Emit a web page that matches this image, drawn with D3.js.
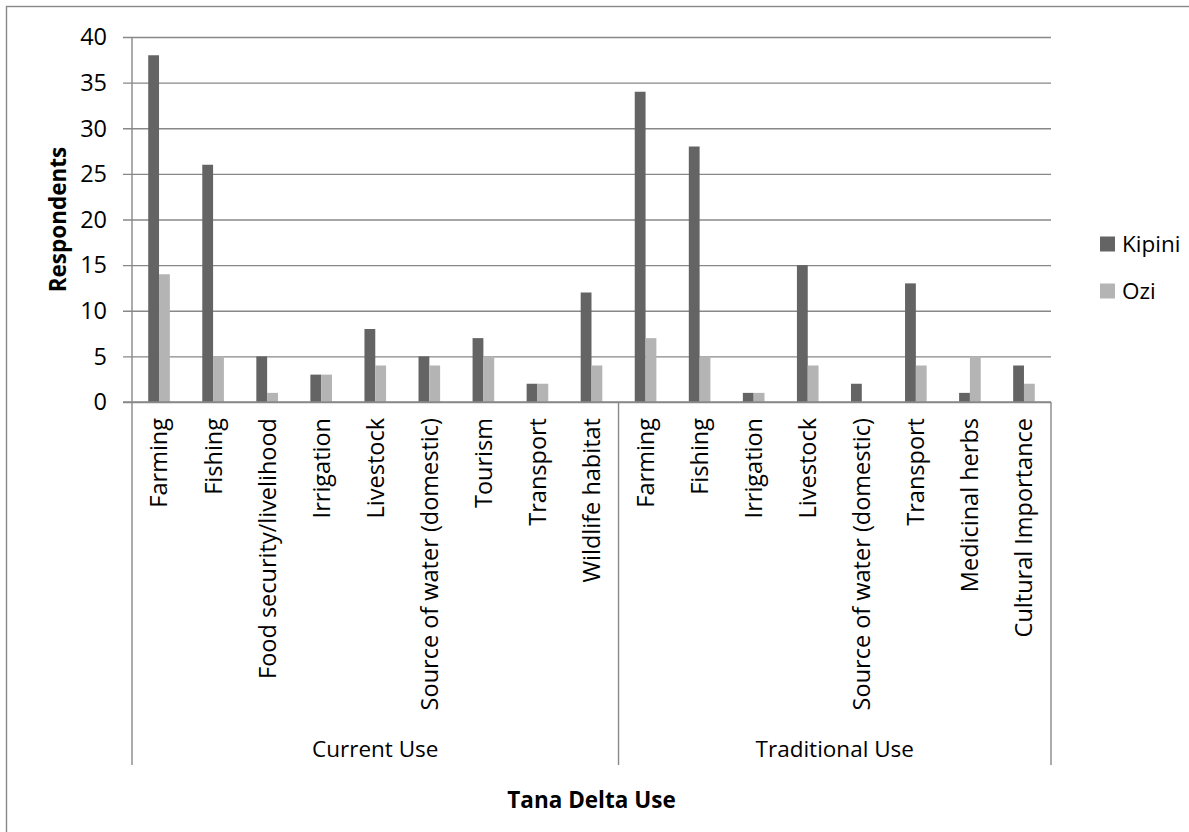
<!DOCTYPE html>
<html>
<head>
<meta charset="utf-8">
<script src="https://cdn.jsdelivr.net/npm/d3@7"></script>
<style>
  html, body { margin: 0; padding: 0; background: #fff; }
  svg { display: block; }
  text { font-family: "Open Sans", "Noto Sans", sans-serif; fill: #000; }
</style>
</head>
<body>
<svg id="chart" width="1189" height="832"></svg>
<script>
// Tana Delta uses named by respondents in Kipini and Ozi
const groups = ["Current Use", "Traditional Use"];
const currentUses = ["Farming", "Fishing", "Food security/livelihood", "Irrigation", "Livestock",
  "Source of water (domestic)", "Tourism", "Transport", "Wildlife habitat"];
const traditionalUses = ["Farming", "Fishing", "Irrigation", "Livestock", "Source of water (domestic)",
  "Transport", "Medicinal herbs", "Cultural Importance"];
const series = ["Kipini", "Ozi"];
const kipiniCurrent = [38, 26, 5, 3, 8, 5, 7, 2, 12];
const oziCurrent = [14, 5, 1, 3, 4, 4, 5, 2, 4];
const kipiniTraditional = [34, 28, 1, 15, 2, 13, 1, 4];
const oziTraditional = [7, 5, 1, 4, 0, 4, 5, 2];
const yTicks = [0, 5, 10, 15, 20, 25, 30, 35, 40];

const colors = { Kipini: "#646464", Ozi: "#b4b4b4" };
const lineColor = "#888888";

// Flatten into one row per category, keeping its group
const rows = [
  ...currentUses.map((name, i) => ({ group: groups[0], name, Kipini: kipiniCurrent[i], Ozi: oziCurrent[i] })),
  ...traditionalUses.map((name, i) => ({ group: groups[1], name, Kipini: kipiniTraditional[i], Ozi: oziTraditional[i] }))
].map(d => ({ ...d, key: d.group + "|" + d.name }));

const plot = { left: 132, right: 1051, top: 37, bottom: 402 };
const boxBottom = 765;

const svg = d3.select("#chart");

// Chart frame
svg.append("rect")
  .attr("x", 6.5).attr("y", 6.5)
  .attr("width", 1200).attr("height", 840)
  .attr("fill", "none").attr("stroke", lineColor).attr("stroke-width", 1.4);

const x0 = d3.scaleBand().domain(rows.map(d => d.key)).range([plot.left, plot.right]).padding(0);
const bw = x0.bandwidth();
const x1 = d3.scaleBand().domain(series).range([bw * 0.3, bw * 0.7]).padding(0);
const y = d3.scaleLinear().domain([0, 40]).range([plot.bottom, plot.top]);

// Gridlines with left tick stubs
const yAxis = d3.axisLeft(y).tickValues(yTicks).tickSize(-(plot.right - plot.left)).tickPadding(25);
const gy = svg.append("g").attr("transform", `translate(${plot.left},0)`).call(yAxis);
gy.select(".domain").remove();
gy.selectAll(".tick line")
  .attr("x1", -9)
  .attr("stroke", lineColor).attr("stroke-width", 1.4);
gy.selectAll(".tick text")
  .attr("font-size", 23.5)
  .style("font-family", '"Open Sans", sans-serif')
  .attr("fill", "#000")
  .attr("dy", "0.33em");

// Value axis line
svg.append("line")
  .attr("x1", plot.left).attr("x2", plot.left)
  .attr("y1", plot.top).attr("y2", plot.bottom)
  .attr("stroke", lineColor).attr("stroke-width", 1.4);

// Bars
const cat = svg.append("g").selectAll("g").data(rows).join("g")
  .attr("transform", d => `translate(${x0(d.key)},0)`);
cat.selectAll("rect")
  .data(d => series.map(s => ({ s, v: d[s] })))
  .join("rect")
  .attr("x", d => x1(d.s))
  .attr("width", x1.bandwidth())
  .attr("y", d => y(d.v))
  .attr("height", d => y(0) - y(d.v))
  .attr("fill", d => colors[d.s]);

// Category axis line
svg.append("line")
  .attr("x1", plot.left - 9).attr("x2", plot.right)
  .attr("y1", plot.bottom).attr("y2", plot.bottom)
  .attr("stroke", lineColor).attr("stroke-width", 1.4);

// Group box dividers
const groupBounds = groups.map(g => {
  const keys = rows.filter(d => d.group === g).map(d => d.key);
  return { g, x0: x0(keys[0]), x1: x0(keys[keys.length - 1]) + bw };
});
const dividers = [groupBounds[0].x0, ...groupBounds.map(b => b.x1)];
svg.append("g").selectAll("line").data(dividers).join("line")
  .attr("x1", d => d).attr("x2", d => d)
  .attr("y1", plot.bottom).attr("y2", boxBottom)
  .attr("stroke", lineColor).attr("stroke-width", 1.4);

// Rotated category labels
svg.append("g").selectAll("text").data(rows).join("text")
  .attr("transform", d => `translate(${x0(d.key) + bw / 2},418) rotate(-90)`)
  .attr("text-anchor", "end")
  .attr("dy", "0.36em")
  .attr("font-size", 23.5)
  .text(d => d.name);

// Group labels
svg.append("g").selectAll("text").data(groupBounds).join("text")
  .attr("x", d => (d.x0 + d.x1) / 2)
  .attr("y", 757)
  .attr("text-anchor", "middle")
  .attr("font-size", 22.5)
  .text(d => d.g);

// Axis titles
svg.append("text")
  .attr("x", (plot.left + plot.right) / 2)
  .attr("y", 808)
  .attr("text-anchor", "middle")
  .attr("font-size", 22.5)
  .attr("font-weight", "bold")
  .text("Tana Delta Use");

svg.append("text")
  .attr("transform", `translate(66,${(plot.top + plot.bottom) / 2}) rotate(-90)`)
  .attr("text-anchor", "middle")
  .attr("font-size", 22.5)
  .attr("font-weight", "bold")
  .text("Respondents");

// Legend
const legend = svg.append("g").selectAll("g").data(series).join("g")
  .attr("transform", (d, i) => `translate(1100,${244 + i * 47})`);
legend.append("rect")
  .attr("x", 0).attr("y", -7.5)
  .attr("width", 15).attr("height", 15)
  .attr("fill", d => colors[d]);
legend.append("text")
  .attr("x", 22).attr("dy", "0.36em")
  .attr("font-size", 22.5)
  .text(d => d);
</script>
</body>
</html>
